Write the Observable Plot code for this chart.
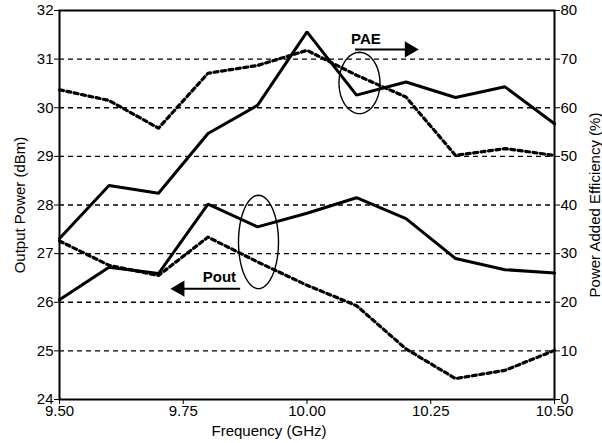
<!DOCTYPE html>
<html><head><meta charset="utf-8">
<script src="https://cdn.jsdelivr.net/npm/d3@7"></script>
<script src="https://cdn.jsdelivr.net/npm/@observablehq/plot@0.6"></script>
<style>body{margin:0;background:#fff}</style>
</head><body><div id="chart"></div>
<script>
// ---- data ----
const freq = [9.5, 9.6, 9.7, 9.8, 9.9, 10.0, 10.1, 10.2, 10.3, 10.4, 10.5];
const paeSolid  = [33.1, 44.0, 42.4, 54.7, 60.5, 75.6, 62.6, 65.3, 62.1, 64.3, 56.7];   // %
const paeDashed = [63.7, 61.5, 55.8, 67.1, 68.7, 71.8, 66.7, 62.2, 50.2, 51.6, 50.2];   // %
const poutSolid  = [26.05, 26.72, 26.59, 28.02, 27.55, 27.83, 28.15, 27.72, 26.90, 26.67, 26.60]; // dBm
const poutDashed = [27.26, 26.76, 26.55, 27.34, 26.83, 26.35, 25.93, 25.04, 24.43, 24.60, 25.01]; // dBm
const xTicks = [9.5, 9.75, 10.0, 10.25, 10.5];
const leftTicks = [24, 25, 26, 27, 28, 29, 30, 31, 32];
const rightTicks = [0, 10, 20, 30, 40, 50, 60, 70, 80];
const gridLevels = [25, 26, 27, 28, 29, 30, 31];
// annotations (data coordinates)
const ellipses = [
  {name: "PAE", cx: 10.106, cy: 30.51, rx: 0.0414, ry: 0.63},
  {name: "Pout", cx: 9.902, cy: 27.24, rx: 0.0404, ry: 0.96}
];
const labels = [
  {text: "PAE", x: 10.119, y: 31.42},
  {text: "Pout", x: 9.823, y: 26.52}
];
const arrows = [
  {name: "PAE", x1: 10.098, x2: 10.205, y: 31.20, head: 10.207, rot: 90},
  {name: "Pout", x1: 9.866, x2: 9.745, y: 26.28, head: 9.743, rot: -90}
];

// map PAE (%) onto the left scale (0..80 % <-> 24..32 dBm)
const paeToY = p => 24 + p / 10;

const rows = [];
freq.forEach((f, i) => {
  rows.push({f, v: paeToY(paeSolid[i]), s: "paeSolid", dash: false});
  rows.push({f, v: paeToY(paeDashed[i]), s: "paeDashed", dash: true});
  rows.push({f, v: poutSolid[i], s: "poutSolid", dash: false});
  rows.push({f, v: poutDashed[i], s: "poutDashed", dash: true});
});
const solid = rows.filter(d => !d.dash);
const dashed = rows.filter(d => d.dash);

const ellPts = [];
for (const e of ellipses) {
  for (let k = 0; k <= 72; k++) {
    const t = (k / 72) * 2 * Math.PI;
    ellPts.push({name: e.name, x: e.cx + e.rx * Math.cos(t), y: e.cy + e.ry * Math.sin(t)});
  }
}
const font = "'Liberation Sans', Arial, Helvetica, sans-serif";

const chart = Plot.plot({
  width: 602,
  height: 443,
  marginLeft: 59,
  marginRight: 48,
  marginTop: 10,
  marginBottom: 44,
  style: {fontFamily: font, fontSize: "15px", background: "#fff", color: "#000"},
  x: {domain: [9.5, 10.5]},
  y: {domain: [24, 32]},
  marks: [
    Plot.ruleY(gridLevels, {stroke: "#000", strokeWidth: 1.3, strokeDasharray: "5,4"}),
    Plot.line(solid, {x: "f", y: "v", z: "s", stroke: "#000", strokeWidth: 3, strokeLinejoin: "miter"}),
    Plot.line(dashed, {x: "f", y: "v", z: "s", stroke: "#000", strokeWidth: 3.2, strokeDasharray: "4,3.5"}),
    Plot.line(ellPts, {x: "x", y: "y", z: "name", stroke: "#000", strokeWidth: 1.4}),
    Plot.ruleY(arrows, {y: "y", x1: "x1", x2: "x2", stroke: "#000", strokeWidth: 2}),
    Plot.dot(arrows, {x: "head", y: "y", symbol: "triangle", rotate: "rot", r: 6, fill: "#000", stroke: "none"}),
    Plot.text(labels, {x: "x", y: "y", text: "text", fontWeight: "bold", fontSize: 15, fill: "#000"}),
    Plot.frame({stroke: "#000", strokeWidth: 2}),
    Plot.axisX(xTicks, {tickFormat: d3.format(".2f"), tickSize: 5, tickPadding: 1, label: null, fontSize: 15}),
    Plot.text(["Frequency (GHz)"], {frameAnchor: "bottom", dy: 36, dx: -38, fontSize: 15, fill: "#000"}),
    Plot.axisY(leftTicks, {anchor: "left", tickSize: 5, tickPadding: 1, label: "Output Power (dBm)", labelAnchor: "center", labelOffset: 45, labelArrow: "none", fontSize: 15}),
    Plot.axisY(leftTicks, {anchor: "right", tickSize: 5, tickPadding: 1, tickFormat: (d, i) => rightTicks[i], label: "Power Added Efficiency (%)", labelAnchor: "center", labelOffset: 45, labelArrow: "none", fontSize: 15})
  ]
});
document.getElementById("chart").appendChild(chart);
</script>
</body></html>
